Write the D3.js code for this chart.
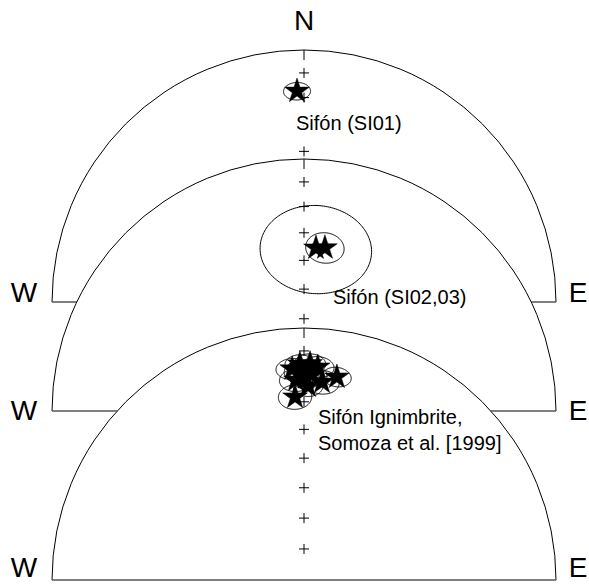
<!DOCTYPE html>
<html><head><meta charset="utf-8">
<script src="https://cdn.jsdelivr.net/npm/d3@7/dist/d3.min.js"></script>
<style>body{margin:0;background:#fff}svg{display:block}text{font-family:"Liberation Sans",Arial,Helvetica,sans-serif}</style>
</head><body>
<svg id="c" width="589" height="585"></svg>
<script>
// ---- data (declination, inclination [deg], alpha95 [deg]) ----
const netNames = ["Sifón (SI01)", "Sifón (SI02,03)", "Sifón Ignimbrite,|Somoza et al. [1999]"];
const si01Dec = [358.1];
const si01Inc = [-17.4];
const si01A95 = [3.5];
const si0203Dec = [4.2, 7.3];
const si0203Inc = [-35.4, -35.0];
const si0203A95 = [16.0, 5.5];
const somozaDec = [356.8, 358.9, 1.6, 3.7, 359.4, 2.2, 357.7, 5.2, 1.2, 357.2, 9.2, 0.5];
const somozaInc = [-17.2, -15.4, -15.2, -16.4, -18.6, -19.7, -21.7, -22.2, -24.0, -28.1, -19.5, -20.8];
const somozaA95 = [4.2, 3.8, 4.0, 4.2, 4.6, 4.0, 4.4, 4.6, 4.0, 4.6, 3.8, 4.2];
const tickInc = [10, 20, 30, 40, 50, 60, 70, 80];
const dirLabels = ["N", "W", "E"];

const datasets = [
  {dec: si01Dec, inc: si01Inc, a95: si01A95},
  {dec: si0203Dec, inc: si0203Inc, a95: si0203A95},
  {dec: somozaDec, inc: somozaInc, a95: somozaA95}
];
// layout
const R = 252, cx = 304;
const netCy = [302, 411, 580];
const labelPos = [[296, 130], [333, 304], [318, 424]];
const wePosY = [302, 420, 577];

const svg = d3.select("#c");

datasets.forEach((ds, i) => {
  const cy = netCy[i];
  const proj = d3.geoAzimuthalEqualArea()
    .rotate([0, -90, 0])
    .scale(R / Math.SQRT2)
    .translate([cx, cy])
    .clipAngle(90);
  const path = d3.geoPath(proj);
  const toLL = (dec, inc) => [180 - dec, Math.abs(inc)];
  const g = svg.append("g");

  // half-disk background + primitive arc
  const arcGen = d3.arc().innerRadius(0).outerRadius(R).startAngle(-Math.PI / 2).endAngle(Math.PI / 2);
  g.append("path").attr("transform", `translate(${cx},${cy})`)
    .attr("d", arcGen()).attr("fill", "#fff").attr("stroke", "none");
  const arcOnly = d3.path();
  arcOnly.arc(cx, cy, R, Math.PI, 2 * Math.PI);
  g.append("path").attr("d", arcOnly.toString()).attr("fill", "none").attr("stroke", "#000").attr("stroke-width", 1);
  g.append("line").attr("x1", cx - R).attr("x2", cx + R).attr("y1", cy).attr("y2", cy)
    .attr("stroke", "#555").attr("stroke-width", 1.6);

  // N tick
  const top = proj([180, 0]);
  g.append("line").attr("x1", top[0]).attr("x2", top[0]).attr("y1", top[1]).attr("y2", top[1] + 10)
    .attr("stroke", "#000").attr("stroke-width", 1);

  // inclination crosses along N
  tickInc.forEach(t => {
    const p = proj([180, t]);
    g.append("path").attr("d", `M${p[0] - 5},${p[1]}H${p[0] + 5}M${p[0]},${p[1] - 5}V${p[1] + 5}`)
      .attr("stroke", "#000").attr("stroke-width", 1).attr("fill", "none");
  });

  // label
  const lines = netNames[i].split("|");
  lines.forEach((l, j) => {
    g.append("text").attr("x", labelPos[i][0]).attr("y", labelPos[i][1] + j * 26)
      .attr("font-size", 20).attr("fill", "#000")
      .attr("stroke", "#fff").attr("stroke-width", 4).attr("paint-order", "stroke")
      .text(l);
  });

  // alpha95 circles
  ds.dec.forEach((d, k) => {
    const circ = d3.geoCircle().center(toLL(d, ds.inc[k])).radius(ds.a95[k]).precision(2)();
    g.append("path").attr("d", path(circ)).attr("fill", "none").attr("stroke", "#000").attr("stroke-width", 1);
  });
  // stars
  const star = d3.symbol().type(d3.symbolStar).size(190);
  ds.dec.forEach((d, k) => {
    const p = proj(toLL(d, ds.inc[k]));
    g.append("path").attr("transform", `translate(${p[0]},${p[1]})`).attr("d", star())
      .attr("fill", "#000").attr("stroke", "#000").attr("stroke-width", 0.5);
  });

  // W / E labels
  g.append("text").attr("x", 24).attr("y", wePosY[i]).attr("text-anchor", "middle")
    .attr("font-size", 28).text(dirLabels[1]);
  g.append("text").attr("x", 578).attr("y", wePosY[i]).attr("text-anchor", "middle")
    .attr("font-size", 28).text(dirLabels[2]);
});

svg.append("text").attr("x", cx).attr("y", 30).attr("text-anchor", "middle")
  .attr("font-size", 28).text(dirLabels[0]);
</script>
</body></html>
